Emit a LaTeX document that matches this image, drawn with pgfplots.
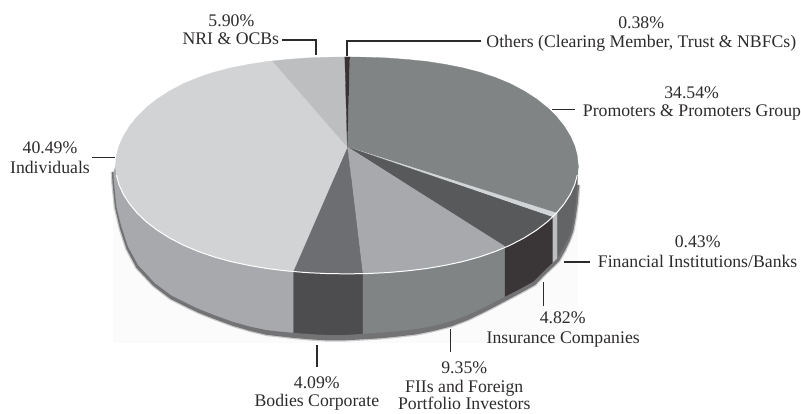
\documentclass[border=0pt]{standalone}
\usepackage{fontspec}
\setmainfont{Liberation Serif}
\usepackage{pgfplots}
\pgfplotsset{compat=1.18}
\definecolor{txt}{HTML}{2D2A2B}
\definecolor{topProm}{HTML}{808484}
\definecolor{topFin}{HTML}{D2D5D7}
\definecolor{topIns}{HTML}{58595B}
\definecolor{topFii}{HTML}{A7A9AC}
\definecolor{topBod}{HTML}{6D6E71}
\definecolor{topInd}{HTML}{D1D3D4}
\definecolor{topNri}{HTML}{BCBEC0}
\definecolor{topOth}{HTML}{373334}
\definecolor{sideProm}{HTML}{636466}
\definecolor{sideFin}{HTML}{BCBEC0}
\definecolor{sideIns}{HTML}{3A3536}
\definecolor{sideFii}{HTML}{808484}
\definecolor{sideBod}{HTML}{4D4D4F}
\definecolor{sideInd}{HTML}{A7A9AC}
\definecolor{shade}{HTML}{737375}
\definecolor{paper}{HTML}{FBFBFB}
\begin{document}
\begin{tikzpicture}[
  lab/.style={font=\fontsize{17.8}{20}\selectfont, text=txt, inner sep=0pt, anchor=base},
  wedge/.style={fill=#1, draw=#1, line width=0.3pt},
  lead/.style={draw=txt, line width=1.4pt}]
\begin{axis}[
    hide axis, scale only axis, clip=false,
    width=801bp, height=414bp,
    xmin=0, xmax=801, ymin=0, ymax=414, y dir=reverse]
\addplot[draw=none] coordinates {(0,0) (801,414)};
% faint backing of the disc
\addplot[fill=paper, draw=none] coordinates {(113,170) (578,170) (578,343) (113,343)};
% shadow under the disc
\addplot[fill=shade, draw=shade, line width=2.5pt, draw opacity=0.35, line join=round] coordinates {(579.5,185) (578,203.5) (576,218) (573.5,231.5) (570,241) (565.5,250.5) (559.5,261) (555,265.5) (545,275) (535.5,285) (522,292.5) (507,300.5) (488,310.5) (468.5,320) (451.5,326.5) (434,331) (417,334.5) (400,336.5) (380,338.5) (362.7,339.5) (345,340.5) (326.7,340.5) (310,339.5) (293.3,338) (280,336.5) (266.7,335) (250,331) (233,326) (214,319) (199,313) (190.5,309) (170.5,299) (153.5,286) (136.5,268) (126.5,249) (120,229) (115,207.5) (112.5,183) (112,172)};
% side walls
\addplot[wedge=sideProm] coordinates {(557.3,213.3) (564.5,203.85) (570.6,194.35) (575,184.65) (577.6,175.1) (578.5,165.5) (578.3,170) (577.5,185) (576,203) (574,217) (571.7,230) (568,239) (563.3,248.3) (557.3,258.5)};
\addplot[wedge=sideFin] coordinates {(552.7,217.3) (557.3,213.3) (557.3,258.5) (552.7,262.7)};
\addplot[wedge=sideIns] coordinates {(505,246.5) (510.7,245.2) (524.3,238.1) (536.6,230.35) (547.5,222) (552.7,217.3) (552.7,262.7) (543,272) (533.3,281.7) (520,289) (505,296.7)};
\addplot[wedge=sideFii] coordinates {(362.7,274) (367.2,273.7) (387.2,272.75) (406.9,271.05) (426.2,268.75) (444.8,265.55) (462.75,261.75) (479.8,257.05) (495.8,251.5) (505,246.5) (505,296.7) (486,306.5) (466.7,315.5) (450,321.5) (433,326) (416,329) (400,331) (380,332.7) (362.7,333.8)};
\addplot[wedge=sideBod] coordinates {(293.3,271.6) (306.8,272.75) (326.8,273.7) (347,274) (362.7,274) (362.7,333.8) (345,335) (326.7,335) (310,334) (293.3,332.7)};
\addplot[wedge=sideInd] coordinates {(115.5,165.5) (116.4,175.1) (119,184.65) (123.4,194.35) (129.5,203.85) (137.2,213.15) (146.5,222) (157.4,230.35) (169.7,238.1) (183.3,245.2) (198.2,251.5) (214.2,257.05) (231.25,261.75) (249.2,265.55) (267.8,268.75) (287.1,271.05) (293.3,271.6) (293.3,332.7) (280,331.5) (266.7,330) (250,326.5) (233,321.7) (215,315.2) (200,309.3) (191.7,305.5) (171.7,295.5) (155,283) (138.3,265) (128.3,246.7) (121.7,226.7) (116.7,206.7) (114.3,183) (113.7,172)};
% top face
\addplot[wedge=topProm] coordinates {(347.5,147) (350,57) (367.2,57.3) (387.2,58) (406.9,59.5) (426.2,61.4) (444.8,64.3) (462.75,67.8) (479.8,72.2) (495.8,77.6) (510.7,83.8) (524.3,91) (536.6,98.9) (547.5,107.5) (556.8,116.7) (564.5,126.3) (570.6,136.2) (575,146.1) (577.6,155.9) (578.5,165.5) (577.6,175.1) (575,184.65) (570.6,194.35) (564.5,203.85) (557.3,213.3)};
\addplot[wedge=topFin] coordinates {(347.5,147) (557.3,213.3) (552.7,217.3)};
\addplot[wedge=topIns] coordinates {(347.5,147) (552.7,217.3) (547.5,222) (536.6,230.35) (524.3,238.1) (510.7,245.2) (505,246.5)};
\addplot[wedge=topFii] coordinates {(347.5,147) (505,246.5) (495.8,251.5) (479.8,257.05) (462.75,261.75) (444.8,265.55) (426.2,268.75) (406.9,271.05) (387.2,272.75) (367.2,273.7) (362.7,274)};
\addplot[wedge=topBod] coordinates {(347.5,147) (362.7,274) (347,274) (326.8,273.7) (306.8,272.75) (293.3,271.6)};
\addplot[wedge=topInd] coordinates {(347.5,147) (293.3,271.6) (287.1,271.05) (267.8,268.75) (249.2,265.55) (231.25,261.75) (214.2,257.05) (198.2,251.5) (183.3,245.2) (169.7,238.1) (157.4,230.35) (146.5,222) (137.2,213.15) (129.5,203.85) (123.4,194.35) (119,184.65) (116.4,175.1) (115.5,165.5) (116.4,155.9) (119,146.1) (123.4,136.2) (129.5,126.3) (137.2,116.7) (146.5,107.5) (157.4,98.9) (169.7,91) (183.3,83.8) (198.2,77.6) (214.2,72.2) (231.25,67.8) (249.2,64.3) (267.8,61.4) (272.7,61)};
\addplot[wedge=topNri] coordinates {(347.5,147) (272.7,61) (287.1,59.5) (306.8,58) (326.8,57.3) (345,57)};
\addplot[wedge=topOth] coordinates {(347.5,147) (345,57) (350,57)};
% white rim along the front edge
\addplot[white, line width=1pt] coordinates {(116.4,175.1) (119,184.65) (123.4,194.35) (129.5,203.85) (137.2,213.15) (146.5,222) (157.4,230.35) (169.7,238.1) (183.3,245.2) (198.2,251.5) (214.2,257.05) (231.25,261.75) (249.2,265.55) (267.8,268.75) (287.1,271.05) (306.8,272.75) (326.8,273.7) (347,274) (367.2,273.7) (387.2,272.75) (406.9,271.05) (426.2,268.75) (444.8,265.55) (462.75,261.75) (479.8,257.05) (495.8,251.5) (510.7,245.2) (524.3,238.1) (536.6,230.35) (547.5,222) (556.8,213.15) (564.5,203.85) (570.6,194.35) (575,184.65) (577.6,175.1)};
% leader lines
\addplot[lead] coordinates {(347,56) (347,41) (481,41)};
\addplot[lead] coordinates {(282,40) (316,40) (316,55)};
\addplot[lead] coordinates {(552.7,109.5) (575,109.5)};
\addplot[lead] coordinates {(92,157.3) (115,157.3)};
\addplot[lead] coordinates {(564,262) (590,262)};
\addplot[lead] coordinates {(543.5,282.3) (543.5,306)};
\addplot[lead] coordinates {(450.7,329) (450.7,351.7)};
\addplot[lead] coordinates {(317.3,345) (317.3,366.7)};
% labels
\node[lab] at (axis cs:641.5,28.3) {0.38\%};
\node[lab] at (axis cs:641.7,47.7) {Others (Clearing Member, Trust \& NBFCs)};
\node[lab] at (axis cs:231.5,26.7) {5.90\%};
\node[lab] at (axis cs:231,45) {NRI \& OCBs};
\node[lab] at (axis cs:692,98.3) {34.54\%};
\node[lab] at (axis cs:692.3,116.7) {Promoters \& Promoters Group};
\node[lab] at (axis cs:50,153.3) {40.49\%};
\node[lab] at (axis cs:50,173.3) {Individuals};
\node[lab] at (axis cs:698,247.7) {0.43\%};
\node[lab] at (axis cs:698,267.7) {Financial Institutions/Banks};
\node[lab] at (axis cs:563,324) {4.82\%};
\node[lab] at (axis cs:563.5,343.3) {Insurance Companies};
\node[lab] at (axis cs:464.5,373.3) {9.35\%};
\node[lab] at (axis cs:464.5,392.7) {FIIs and Foreign};
\node[lab] at (axis cs:464.5,410) {Portfolio Investors};
\node[lab] at (axis cs:317,388.3) {4.09\%};
\node[lab] at (axis cs:317,406.3) {Bodies Corporate};
\end{axis}
\end{tikzpicture}
\end{document}
